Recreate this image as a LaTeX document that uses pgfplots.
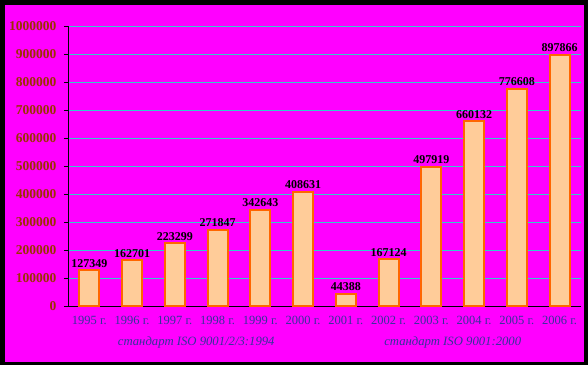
\documentclass[border=0pt]{standalone}
\usepackage{pgfplots}
\pgfplotsset{compat=1.18}
\usepackage{pgfplotstable}
\usepackage{fontspec}
\setmainfont{Liberation Serif}
\definecolor{bgmag}{HTML}{FF00FF}
\definecolor{gridc}{HTML}{33CCCC}
\definecolor{barfill}{HTML}{FFCC99}
\definecolor{baredge}{HTML}{FF6600}
\definecolor{ylab}{HTML}{993300}
\definecolor{xlab}{HTML}{333399}
\pgfplotstableread{
x y lab
0.5 127349 127349
1.5 162701 162701
2.5 223299 223299
3.5 271847 271847
4.5 342643 342643
5.5 408631 408631
6.5 44388 44388
7.5 167124 167124
8.5 497919 497919
9.5 660132 660132
10.5 776608 776608
11.5 897866 897866
}\datatable
\begin{document}
\begin{tikzpicture}[x=1pt,y=1pt]
\fill[black] (0,0) rectangle (588,365);
\fill[bgmag] (5,3) rectangle (584,360);
\begin{axis}[
  at={(68pt,59pt)}, anchor=south west,
  scale only axis, width=513pt, height=280pt,
  xmin=0, xmax=12, ymin=0, ymax=1000000,
  axis x line=bottom, axis y line=left,
  axis line style={black, line width=1pt, -},
  clip=false,
  ytick={0,100000,...,1000000},
  yticklabel style={font=\fontsize{13.5}{15}\selectfont\bfseries, text=ylab, xshift=-4pt},
  /pgf/number format/.cd, fixed, 1000 sep={}, assume math mode=true, /pgfplots/.cd,
  scaled y ticks=false,
  ymajorgrids, major grid style={gridc, line width=1pt},
  ytick style={black, line width=1pt},
  tick align=outside,
  major tick length=4pt,
  xtick={0.5,1.5,...,11.5},
  xticklabels={1995 г.,1996 г.,1997 г.,1998 г.,1999 г.,2000 г.,2001 г.,2002 г.,2003 г.,2004 г.,2005 г.,2006 г.},
  xticklabel style={font=\fontsize{12.5}{14}\selectfont, text=xlab, yshift=-3pt},
  x tick style={draw=none},
  minor xtick={0,1,...,12},
  minor x tick style={black, line width=1pt},
  minor tick length=23pt,
  extra x ticks={0,6,12},
  extra x tick labels={},
  extra x tick style={grid=none, major tick length=45pt, tick style={draw=black, line width=1pt}},
]
\addplot[ybar, bar width=20pt, fill=barfill, draw=baredge, line width=2pt,
  point meta=explicit symbolic,
  nodes near coords,
  nodes near coords style={font=\fontsize{12}{14}\selectfont\bfseries, text=black, inner sep=2pt}]
  table[x=x, y=y, meta=lab] {\datatable};
\node[font=\fontsize{12.7}{14}\selectfont\itshape, text=xlab] at (axis cs:3,0) [yshift=-36pt] {стандарт ISO 9001/2/3:1994};
\node[font=\fontsize{12.7}{14}\selectfont\itshape, text=xlab] at (axis cs:9,0) [yshift=-36pt] {стандарт ISO 9001:2000};
\end{axis}
\end{tikzpicture}
\end{document}
